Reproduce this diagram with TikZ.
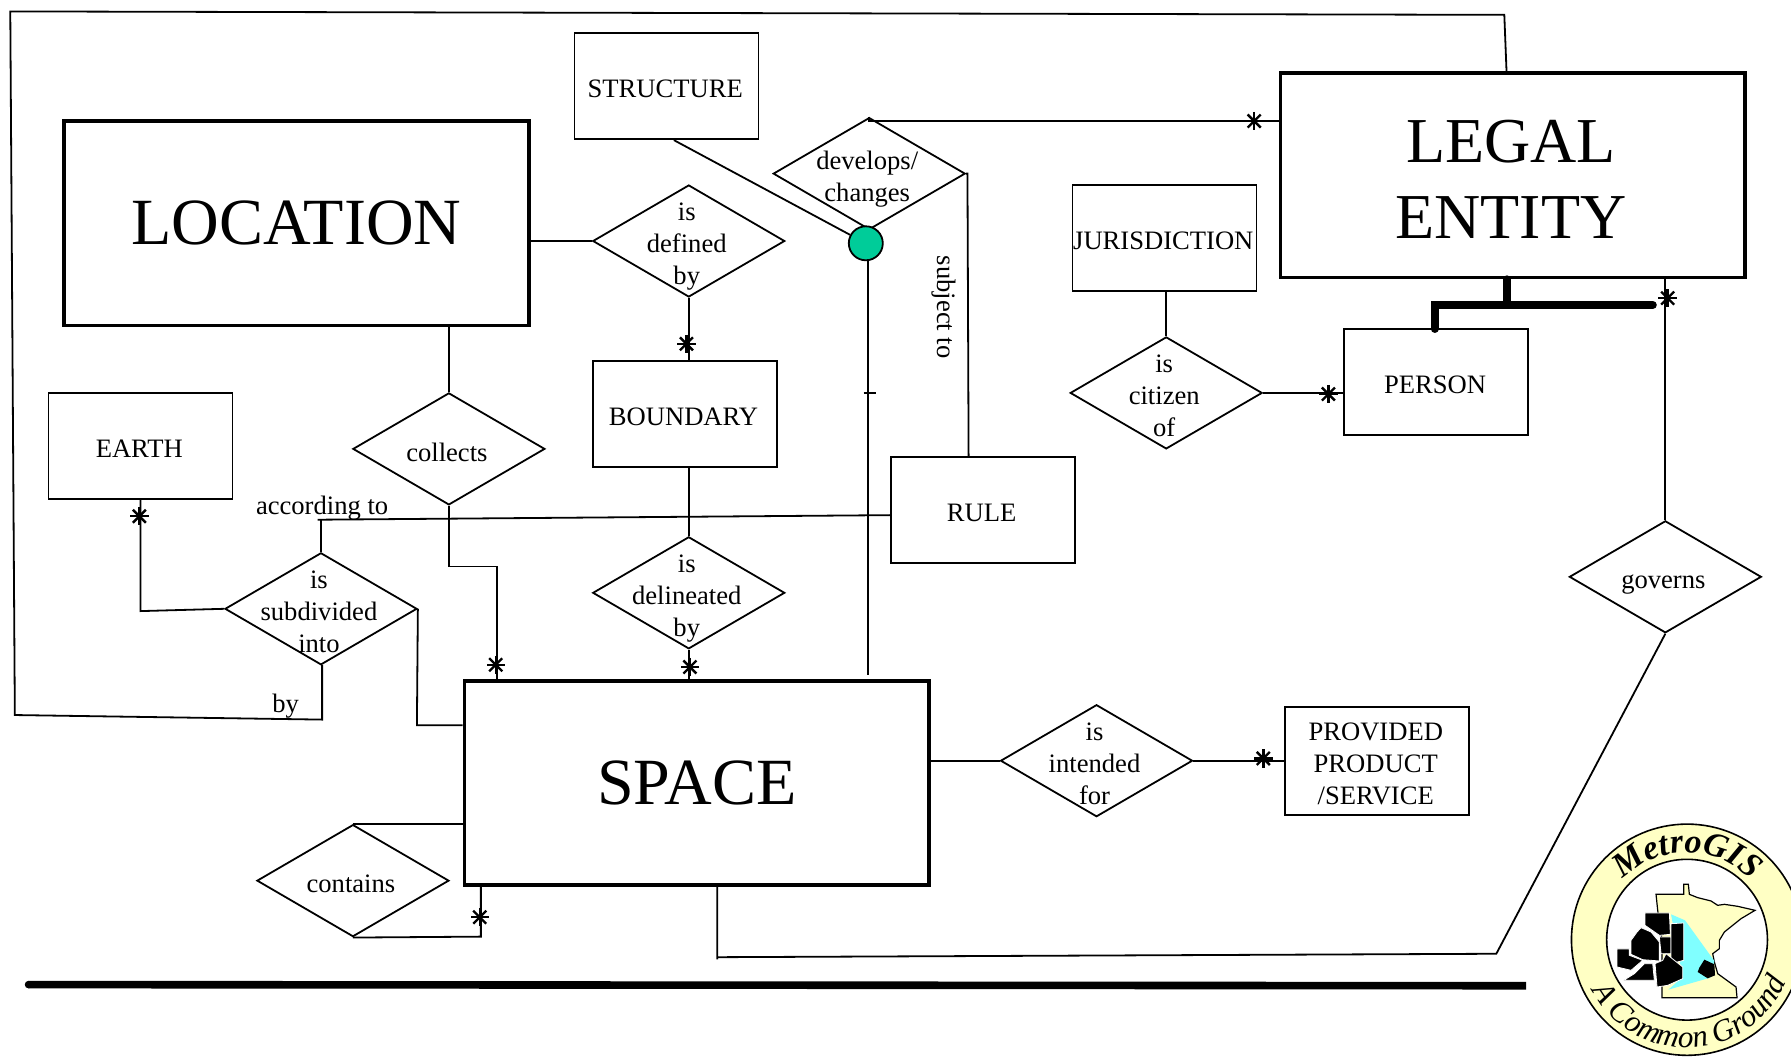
\documentclass[tikz,border=0pt]{standalone}
\usepackage{fontspec}
\setmainfont{Liberation Serif}
\usetikzlibrary{shapes.geometric,decorations.text}
\definecolor{logocream}{HTML}{FFFFC4}
\definecolor{logocyan}{HTML}{80FFFF}
\definecolor{joinball}{HTML}{00CC99}
\tikzset{
  smallbox/.style={draw,line width=0.9pt,minimum width=92pt,minimum height=53pt,inner sep=0pt},
  boxtext/.style={align=center,inner sep=0pt,xshift=-0.6pt,yshift=-1.5pt,font=\fontsize{13.3}{16}\selectfont},
  bigbox/.style={draw,line width=1.8pt,minimum width=232.4pt,minimum height=102.2pt,inner sep=0pt,align=center,font=\fontsize{33}{37.7}\selectfont},
  relation/.style={draw,diamond,line width=0.9pt,minimum width=96pt,minimum height=56pt,inner sep=0pt},
  reltext/.style={align=center,inner sep=0pt,xshift=-1pt,yshift=-2.8pt,font=\fontsize{13.3}{16}\selectfont},
  linktext/.style={inner sep=0pt,font=\fontsize{13.3}{16}\selectfont},
  link/.style={line width=0.9pt},
  heavylink/.style={line width=4pt,line cap=round},
  county/.style={fill=black,draw=white,line width=0.4pt},
  manymark/.pic={\foreach \a in {0,45,90,135} \draw[line width=1.2pt] (\a:4.6pt) -- (\a+180:4.6pt);}
}
\begin{document}
\begin{tikzpicture}[x=0.5711pt,y=-0.5711pt]
        \useasboundingbox (0,0) rectangle (1568,925);
        \clip (0,0) rectangle (1568,925);
        % entities
        \node[bigbox] (location) at (259.5,195.5) {LOCATION};
        \node[bigbox] (space) at (610,685.5) {\raisebox{0.6pt}{SPACE}};
        \node[bigbox,label={[bigbox,draw=none,minimum width=0pt,minimum height=0pt,yshift=-2pt,xshift=-1pt,font=\fontsize{32}{37.7}\selectfont]center:LEGAL\\ENTITY}] (legal) at (1324.5,153.5) {};
        \node[smallbox,label={[boxtext]center:STRUCTURE}] (structure) at (583.5,75.5) {};
        \node[smallbox,label={[boxtext]center:EARTH}] (earth) at (123,390.5) {};
        \node[smallbox,label={[boxtext]center:BOUNDARY}] (boundary) at (599.5,362.5) {};
        \node[smallbox,label={[boxtext]center:RULE}] (rule) at (860.5,446.5) {};
        \node[smallbox,label={[boxtext]center:JURISDICTION}] (jurisdiction) at (1019.5,208.5) {};
        \node[smallbox,label={[boxtext]center:PERSON}] (person) at (1257.5,334.5) {};
        \node[smallbox,minimum height=54pt,label={[boxtext]center:PROVIDED\\PRODUCT\\/SERVICE}] (provided) at (1205.5,666) {};
        % relations
        \node[relation,label={[reltext]center:develops/\\changes}] (develops) at (761,152) {};
        \node[relation,label={[reltext]center:is\\defined\\by}] (defined) at (603,211) {};
        \node[relation,label={[reltext,yshift=1.1pt]center:collects}] (collects) at (393,393) {};
        \node[relation,label={[reltext,yshift=1.3pt]center:is\\subdivided\\into}] (subdivided) at (281,533) {};
        \node[relation,label={[reltext]center:is\\delineated\\by}] (delineated) at (603,519) {};
        \node[relation,label={[reltext,yshift=1.3pt]center:is\\citizen\\of}] (citizen) at (1021,344) {};
        \node[relation,label={[reltext,yshift=-1.2pt]center:governs}] (governs) at (1458,505) {};
        \node[relation,label={[reltext,yshift=1.3pt]center:is\\intended\\for}] (intended) at (960,666) {};
        \node[relation,label={[reltext,yshift=1.1pt]center:contains}] (contains) at (309,771) {};
        \node[draw,circle,fill=joinball,line width=0.9pt,minimum size=17pt,inner sep=0pt] (ball) at (758,213) {};
        % free bends
        \coordinate (legaltop) at (1319,64);
        \coordinate (spacedev) at (760,591);
        \coordinate (ruleup) at (848,400);
        \coordinate (rulejoin) at (278,455);
        \coordinate (subup) at (281,455);
        \coordinate (govdown) at (1458,243);
        \coordinate (spacelow) at (628,775);
        \coordinate (spacecontains) at (421,775);
        % connectors
        \draw[link] (legaltop) -- (1317,13) -- (9,10) -- (13,626) -- (282,630) -- (282,582);
        \draw[link] (structure.south -| 590,0) -- (ball);
        \draw[link] (develops.north) -- (761,106) -- (legal.west |- 0,106);
        \draw[link] (develops.east) -- (847,152) -- (ruleup);
        \draw[link] (ball.south -| spacedev) -- (spacedev);
        \draw[link] (756,344) -- (767,344);
        \draw[link] (location.east |- defined.west) -- (defined.west);
        \draw[link] (defined.south) -- (boundary.north -| defined.south);
        \draw[link] (location.south -| collects.north) -- (collects.north);
        \draw[link] (collects.south) -- (393,496) -- (435,496) -- (space.north -| 435,0);
        \draw[link] (boundary.south -| delineated.north) -- (delineated.north);
        \draw[link] (delineated.south) -- (space.north -| delineated.south);
        \draw[link] (rule.west |- 0,451) -- (rulejoin);
        \draw[link] (subup) -- (subdivided.north);
        \draw[link] (earth.south) -- (123,535) -- (subdivided.west);
        \draw[link] (subdivided.east) -- (365,635) -- (space.west |- 0,635);
        \draw[link] (contains.north) -- (space.west |- contains.north);
        \draw[link] (contains.south) -- (421,820) -- (spacecontains);
        \draw[link] (space.east |- intended.west) -- (intended.west);
        \draw[link] (intended.east) -- (provided.west);
        \draw[link] (spacelow) -- (628,840) -- (628,838) -- (1310,835) -- (governs.south);
        \draw[link] (governs.north) -- (govdown);
        \draw[link] (jurisdiction.south -| 1021,0) -- (citizen.north);
        \draw[link] (citizen.east) -- (person.west |- citizen.east);
        \draw[heavylink] (legal.south -| 1319,0) -- (1319,267);
        \draw[heavylink] (1256,288) -- (1256,267) -- (1447,267);
        \draw[line width=3.8pt] (25,862) -- (1336,863);
        \fill (25,862) circle[radius=1.9pt];
        % link texts
        \node[linktext] (accordingto) at (282,445) {according to};
        \node[linktext] (bytext) at (250,618) {by};
        \node[linktext,rotate=-90] (subjectto) at (826,269) {subject to};
        % many marks
        \foreach \p in {(1098,106),(601,301),(434,582),(604,584),(122,452),(420,803),(1106,664),(1163,345),(1460,261)}
          \pic at \p {manymark};
        % logo
        \begin{scope}[shift={(1477,822.7)}]
          \fill[logocream,draw=black,line width=0.8pt] (0,0) circle[radius=57.8pt];
          \fill[white,draw=black,line width=0.8pt] (0,0) circle[radius=40.2pt];
          \path[decorate,decoration={text along path,text align=center,text={|\bfseries\itshape\fontsize{17}{20}\selectfont|MetroGIS}}]
            (150:43.5pt) arc[start angle=150,end angle=30,radius=43.5pt];
          \path[decorate,decoration={text along path,text align=center,text={|\itshape\fontsize{15.5}{18}\selectfont|A Common Ground}}]
            (205:54pt) arc[start angle=205,end angle=340,radius=54pt];
        \end{scope}
        \begin{scope}[shift={(1357.9,706.5)},x=0.16667pt,y=-0.16667pt]
          \filldraw[fill=logocream,draw=black,line width=0.6pt] (315,262) -- (398,262) -- (398,232) -- (412,232) -- (415,262) -- (440,272) -- (480,282) -- (500,295) -- (520,292) -- (560,298) -- (612,310) -- (570,335) -- (520,375) -- (505,400) -- (505,425) -- (485,440) -- (490,465) -- (500,500) -- (555,540) -- (558,572) -- (333,572) -- (333,400) -- (320,310) -- cycle;
          \fill[logocyan] (360,322) -- (402,340) -- (490,462) -- (478,512) -- (352,548) -- (395,510) -- cycle;
          \filldraw[county] (282,318) -- (355,318) -- (358,382) -- (325,385) -- (282,355) -- cycle;
          \filldraw[county] (270,362) -- (300,375) -- (325,405) -- (325,462) -- (275,458) -- (240,442) -- (240,400) -- (258,375) -- cycle;
          \filldraw[county] (198,426) -- (235,426) -- (235,445) -- (275,460) -- (240,490) -- (198,480) -- cycle;
          \filldraw[county] (280,470) -- (305,470) -- (310,520) -- (218,520) -- (250,500) -- cycle;
          \filldraw[county] (325,390) -- (360,390) -- (360,440) -- (330,440) -- cycle;
          \filldraw[county] (360,350) -- (398,348) -- (398,460) -- (360,470) -- cycle;
          \filldraw[county] (345,440) -- (395,480) -- (395,515) -- (350,535) -- (318,540) -- (312,470) -- (335,460) -- cycle;
          \fill (460,458) -- (490,472) -- (492,505) -- (470,514) -- (440,495) -- (445,482) -- cycle;
        \end{scope}
\end{tikzpicture}
\end{document}
